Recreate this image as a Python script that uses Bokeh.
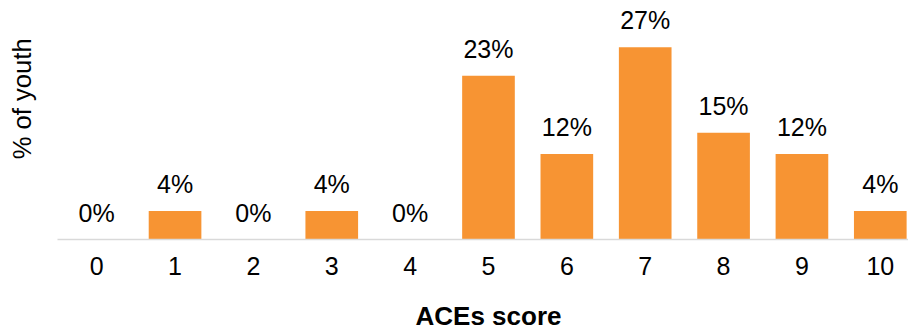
import math
from bokeh.plotting import figure
from bokeh.layouts import column, row
from bokeh.models import ColumnDataSource, Range1d, FixedTicker
from bokeh.core.properties import value
from bokeh.embed import file_html
from bokeh.resources import INLINE

# Data
scores = [0, 1, 2, 3, 4, 5, 6, 7, 8, 9, 10]
tick_labels = ["0", "1", "2", "3", "4", "5", "6", "7", "8", "9", "10"]
percent_youth = [0, 4, 0, 4, 0, 23, 12, 27, 15, 12, 4]
value_labels = [f"{v}%" for v in percent_youth]
x_title = "ACEs score"
y_title = "% of youth"

FONT = "Liberation Sans"
BAR = "#F79433"


def blank(width, height):
    f = figure(width=width, height=height, output_backend="svg",
               toolbar_location=None, x_axis_type=None, y_axis_type=None,
               x_range=Range1d(0, width), y_range=Range1d(height, 0),
               min_border=0)
    f.outline_line_color = None
    return f


src = ColumnDataSource(dict(x=scores, top=percent_youth, lab=value_labels))

p = figure(width=851, height=299, output_backend="svg", toolbar_location=None,
           x_range=Range1d(-0.5, 10.36), y_range=Range1d(0, 33.57),
           min_border_left=0, min_border_right=0, min_border_top=0,
           min_border_bottom=60)
p.outline_line_color = None
p.xgrid.visible = False
p.ygrid.visible = False
p.yaxis.visible = False

p.vbar(x="x", top="top", width=0.672, bottom=0, source=src,
       fill_color=BAR, line_color=None)
p.text(x="x", y="top", text="lab", source=src, text_align="center",
       text_baseline="alphabetic", y_offset=-27, text_font=value(FONT),
       text_font_size="25px", text_color="#000000")

ax = p.xaxis[0]
ax.ticker = FixedTicker(ticks=scores)
ax.major_label_overrides = {s: t for s, t in zip(scores, tick_labels)}
ax.major_tick_line_color = None
ax.minor_tick_line_color = None
ax.major_tick_out = 0
ax.major_tick_in = 0
ax.major_label_standoff = 17
ax.major_label_text_font = FONT
ax.major_label_text_font_size = "25px"
ax.major_label_text_color = "#000000"
ax.axis_line_color = "#d9d9d9"
ax.axis_line_width = 1.5

# y-axis title panel (left of the plot)
pl = blank(57, 299)
pl.text(x=[21], y=[123], text=[y_title], angle=math.pi / 2,
        text_align="center", text_baseline="middle", text_font=value(FONT),
        text_font_size="25.6px", text_color="#000000")

# x-axis title panel (below the plot)
pb = blank(908, 31)
pb.text(x=[488], y=[31], text=[x_title], text_align="center",
        text_baseline="bottom", text_font=value(FONT), text_font_size="26px",
        text_font_style="bold", text_color="#000000")

layout = column(row(pl, p, spacing=0), pb, spacing=0)

open("out.html", "w").write(file_html(layout, INLINE))
